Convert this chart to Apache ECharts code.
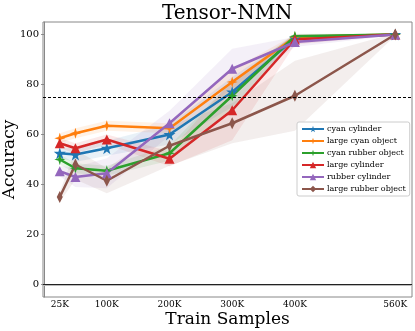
<!DOCTYPE html>
<html>
<head>
<meta charset="utf-8">
<style>
    html, body { margin: 0; padding: 0; background: #fff; }
    #main { width: 415px; height: 331px; }
</style>
<script src="https://cdn.jsdelivr.net/npm/echarts@6/dist/echarts.min.js"></script>
</head>
<body>
<div id="main"></div>
<script>
    // train sizes (in K)
    var trainSizes = [25, 50, 100, 200, 300, 400, 560];
    var xTickValues = [25, 100, 200, 300, 400, 560];
    var yTickValues = [0, 20, 40, 60, 80, 100];

    var seriesNames = ['cyan cylinder', 'large cyan object', 'cyan rubber object',
                       'large cylinder', 'rubber cylinder', 'large rubber object'];

    // mean accuracy
    var cyanCylinder      = [52.5, 52, 54.5, 60, 77, 98.5, 100];
    var largeCyanObject   = [58.5, 60.5, 63.5, 62.5, 81, 99, 100];
    var cyanRubberObject  = [50, 46.5, 45.5, 52.5, 75.5, 99.3, 100];
    var largeCylinder     = [56.5, 54.5, 58, 50.3, 69.7, 98, 100];
    var rubberCylinder    = [45.3, 43, 44.5, 64.5, 86.3, 97, 100];
    var largeRubberObject = [35, 48, 41.5, 55.5, 64.5, 75.5, 100];

    // half width of the shaded band (estimated)
    var cyanCylinderSpread      = [2, 3, 3, 4, 6, 1.5, 0.3];
    var largeCyanObjectSpread   = [2, 2, 2, 2, 5, 1, 0.3];
    var cyanRubberObjectSpread  = [2, 2, 2, 3, 6, 1, 0.3];
    var largeCylinderSpread     = [2, 2, 2, 3, 12, 2, 0.3];
    var rubberCylinderSpread    = [2, 4, 6, 5, 8, 2, 0.3];
    var largeRubberObjectSpread = [2, 6, 5, 8, 8, 14, 0.5];

    var means = [cyanCylinder, largeCyanObject, cyanRubberObject, largeCylinder, rubberCylinder, largeRubberObject];
    var spreads = [cyanCylinderSpread, largeCyanObjectSpread, cyanRubberObjectSpread,
                   largeCylinderSpread, rubberCylinderSpread, largeRubberObjectSpread];

    var colors = ['#1f77b4', '#ff7f0e', '#2ca02c', '#d62728', '#9467bd', '#8c564b'];
    var starPath = 'path://M50,0 L61,35 L98,35 L68,57 L79,91 L50,70 L21,91 L32,57 L2,35 L39,35 Z';
    var sparklePath = 'path://M50,0 L62,38 L100,50 L62,62 L50,100 L38,62 L0,50 L38,38 Z';
    var symbols = [starPath, sparklePath, sparklePath, 'triangle', 'triangle', 'diamond'];
    var symbolSizes = [12, 11, 11, 10, 10, [6, 12]];

    var font = 'DejaVu Serif';
    var series = [];

    // shaded band: one polygon per series, drawn with the axis scales
    function bandSeries(i) {
        var data = [];
        for (var j = 0; j < trainSizes.length; j++) {
            data.push([trainSizes[j], means[i][j] - spreads[i][j], means[i][j] + spreads[i][j]]);
        }
        return {
            type: 'custom',
            silent: true,
            z: 1,
            data: data,
            encode: {x: 0, y: [1, 2]},
            renderItem: function (params, api) {
                if (params.dataIndex !== 0) return;
                var top = [], bottom = [];
                for (var k = 0; k < data.length; k++) {
                    top.push(api.coord([data[k][0], data[k][2]]));
                    bottom.unshift(api.coord([data[k][0], data[k][1]]));
                }
                return {
                    type: 'polygon',
                    shape: {points: top.concat(bottom)},
                    style: {fill: colors[i], opacity: 0.1}
                };
            }
        };
    }

    for (var i = 0; i < means.length; i++) {
        series.push(bandSeries(i));
    }

    for (var i = 0; i < means.length; i++) {
        var pts = [];
        for (var j = 0; j < trainSizes.length; j++) {
            pts.push([trainSizes[j], means[i][j]]);
        }
        var s = {
            name: seriesNames[i],
            type: 'line',
            data: pts,
            symbol: symbols[i],
            symbolSize: symbolSizes[i],
            lineStyle: {width: 2.5, color: colors[i]},
            itemStyle: {color: colors[i]},
            z: 3
        };
        if (i == 0) {
            s.markLine = {
                silent: true, symbol: 'none', label: {show: false},
                data: [
                    {yAxis: 75, lineStyle: {color: '#000', type: [3, 2], width: 1}},
                    {yAxis: 0, lineStyle: {color: '#222', type: 'solid', width: 1.2}}
                ]
            };
        }
        series.push(s);
    }

    var option = {
        animation: false,
        title: {
            text: 'Tensor-NMN',
            left: 157, top: -1,
            textStyle: {fontFamily: font, fontSize: 20, fontWeight: 'normal', color: '#000'}
        },
        legend: {
            data: seriesNames,
            orient: 'vertical',
            left: 297, top: 122,
            padding: [3, 4],
            itemWidth: 22, itemHeight: 8, itemGap: 4,
            backgroundColor: '#fff',
            borderColor: '#ccc', borderWidth: 1, borderRadius: 2,
            textStyle: {fontFamily: font, fontSize: 8, color: '#000', padding: [0, 0, 0, -2]}
        },
        grid: {
            left: 43, right: 3, top: 22, bottom: 34,
            outerBoundsMode: 'none',
            show: true, borderColor: '#888', borderWidth: 1
        },
        xAxis: {
            type: 'value',
            min: -1.75, max: 586.75,
            name: 'Train Samples', nameLocation: 'middle', nameGap: 14, nameMoveOverlap: false,
            nameTextStyle: {fontFamily: font, fontSize: 17, color: '#000'},
            splitLine: {show: false},
            axisLine: {show: true, lineStyle: {color: '#bbb', width: 2}},
            axisTick: {show: false},
            axisLabel: {
                customValues: xTickValues,
                formatter: function (v) { return v + 'K'; },
                fontFamily: font, fontSize: 9, color: '#000', margin: 3
            }
        },
        yAxis: {
            type: 'value',
            min: -5, max: 105,
            name: 'Accuracy', nameLocation: 'middle', nameGap: 25, nameRotate: 90, nameMoveOverlap: false,
            nameTextStyle: {fontFamily: font, fontSize: 17, color: '#000'},
            splitLine: {show: false},
            axisLine: {show: true, lineStyle: {color: '#888', width: 1}},
            axisTick: {show: true, customValues: yTickValues, length: 3, lineStyle: {color: '#888'}},
            axisLabel: {
                customValues: yTickValues,
                fontFamily: font, fontSize: 10, color: '#000', margin: 4
            }
        },
        series: series
    };

    var chart = echarts.init(document.getElementById('main'));
    chart.setOption(option);
</script>
</body>
</html>
